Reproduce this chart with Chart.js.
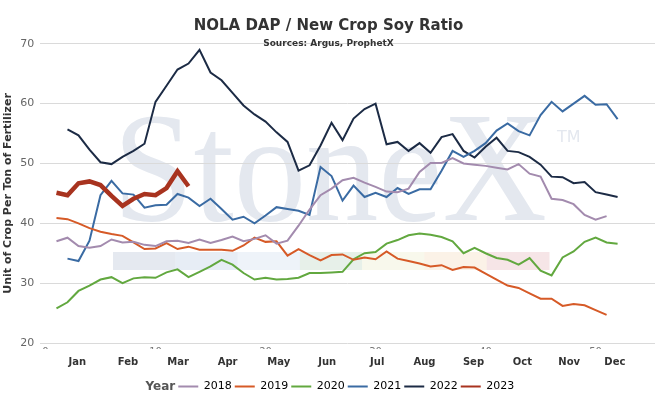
<!DOCTYPE html>
<html>
<head>
<meta charset="utf-8">
<script src="https://cdn.jsdelivr.net/npm/chart.js@4.4.1/dist/chart.umd.min.js"></script>
<style>
  html, body { margin: 0; padding: 0; background: #fff; }
  #wrap { width: 664px; height: 402px; }
</style>
</head>
<body>
<div id="wrap"><canvas id="ratioChart" width="664" height="402"></canvas></div>
<script>
// weekly ratio values
const years = ['2018', '2019', '2020', '2021', '2022', '2023'];
const firstWeek = [1, 1, 1, 2, 2, 1];

const y2018 = [37.0, 37.6, 36.2, 35.9, 36.2, 37.3, 36.8, 36.9, 36.4, 36.2, 37.0, 37.1, 36.7, 37.3, 36.7, 37.2, 37.8, 37.0, 37.4, 38.0,
  36.6, 37.1, 39.6, 42.3, 44.7, 45.8, 47.2, 47.6, 46.8, 46.1, 45.3, 45.2, 45.8, 48.6, 50.1, 50.1, 50.9, 50.0, 49.8, 49.6,
  49.3, 49.0, 49.9, 48.3, 47.8, 44.1, 43.9, 43.2, 41.4, 40.6, 41.2];
const y2019 = [40.9, 40.7, 40.0, 39.2, 38.6, 38.2, 37.9, 36.8, 35.7, 35.8, 36.7, 35.7, 36.1, 35.6, 35.6, 35.6, 35.4, 36.3, 37.6, 36.9,
  37.0, 34.6, 35.7, 34.7, 33.8, 34.7, 34.8, 33.9, 34.3, 34.0, 35.3, 34.1, 33.7, 33.3, 32.8, 33.0, 32.2, 32.7, 32.6, 31.6,
  30.6, 29.6, 29.2, 28.3, 27.4, 27.4, 26.2, 26.5, 26.3, 25.5, 24.7];
const y2020 = [25.8, 26.8, 28.7, 29.6, 30.6, 31.0, 30.0, 30.8, 31.0, 30.9, 31.8, 32.3, 31.0, 31.9, 32.8, 33.9, 33.1, 31.7, 30.6, 30.9,
  30.6, 30.7, 30.9, 31.7, 31.7, 31.8, 31.9, 34.0, 35.0, 35.2, 36.6, 37.2, 38.0, 38.3, 38.1, 37.7, 37.0, 35.0, 35.9, 35.0,
  34.2, 33.9, 33.1, 34.2, 32.1, 31.3, 34.3, 35.3, 36.9, 37.6, 36.8, 36.6];
const y2021 = [34.1, 33.7, 37.1, 44.7, 47.1, 45.0, 44.8, 42.6, 43.0, 43.1, 44.9, 44.3, 42.9, 44.1, 42.4, 40.6, 41.1, 40.0, 41.3,
  42.7, 42.4, 42.1, 41.4, 49.4, 47.9, 43.8, 46.3, 44.4, 45.1, 44.4, 45.9, 44.9, 45.7, 45.7, 48.8, 52.1, 51.1, 52.1, 53.4,
  55.5, 56.7, 55.4, 54.7, 58.1, 60.3, 58.7, 60.0, 61.3, 59.8, 59.9, 57.4];
const y2022 = [55.7, 54.7, 52.3, 50.2, 49.9, 51.1, 52.1, 53.3, 60.3, 63.0, 65.7, 66.7, 69.0, 65.2, 63.9, 61.8, 59.7, 58.2, 57.0,
  55.2, 53.6, 48.8, 49.7, 53.0, 56.8, 53.9, 57.5, 59.1, 60.0, 53.2, 53.6, 52.1, 53.4, 51.8, 54.4, 54.9, 52.1, 51.0, 52.8,
  54.3, 52.1, 51.9, 51.1, 49.8, 47.8, 47.7, 46.7, 46.9, 45.2, 44.8, 44.4];
const y2023 = [45.1, 44.7, 46.7, 47.0, 46.4, 44.6, 42.9, 44.1, 44.9, 44.7, 45.9, 48.7, 46.2];

const seriesValues = [y2018, y2019, y2020, y2021, y2022, y2023];
const seriesColors = ['#a38bae', '#d65a27', '#62a83f', '#3a6ba3', '#1c2b45', '#a8331f'];
const seriesWidths = [2, 2, 2, 2, 2, 4.5];

const monthNames = ['Jan', 'Feb', 'Mar', 'Apr', 'May', 'Jun', 'Jul', 'Aug', 'Sep', 'Oct', 'Nov', 'Dec'];
const monthWeeks = [2.9, 7.5, 12.05, 16.55, 21.2, 25.6, 30.15, 34.45, 38.9, 43.35, 47.6, 51.75];

// faint StoneX logo behind the lines
const watermark = {
  id: 'watermark',
  beforeDraw(chart) {
    const ctx = chart.ctx;
    ctx.save();
    const bars = ['#e5e9f0', '#e7edf5', '#eef3f9', '#e7f0e9', '#f8f8ec', '#fbf2e7', '#f6e5e7'];
    const bw = 436 / bars.length;
    bars.forEach((c, i) => {
      ctx.fillStyle = c;
      ctx.fillRect(113 + i * bw, 252, bw + 0.5, 18);
    });
    ctx.fillStyle = '#e4e8ef';
    ctx.font = '156px "Liberation Serif"';
    ctx.textBaseline = 'alphabetic';
    const w = ctx.measureText('StoneX').width;
    ctx.translate(113, 220);
    ctx.scale(434 / w, 1);
    ctx.fillText('StoneX', 0, 0);
    ctx.restore();
    ctx.save();
    ctx.fillStyle = '#e4e8ef';
    ctx.font = '16px "DejaVu Sans"';
    ctx.fillText('TM', 557, 138);
    ctx.restore();
  }
};

// bold "Year" in front of the legend items
const legendTitle = {
  id: 'legendTitle',
  afterDraw(chart) {
    const boxes = chart.legend && chart.legend.legendHitBoxes;
    if (!boxes || boxes.length < 2) return;
    const ctx = chart.ctx;
    ctx.save();
    ctx.font = 'bold 12px "DejaVu Sans"';
    ctx.fillStyle = '#555';
    ctx.textAlign = 'right';
    ctx.textBaseline = 'middle';
    ctx.fillText('Year', boxes[1].left - 3, boxes[1].top + boxes[1].height / 2);
    ctx.restore();
  }
};

const datasets = years.map((yr, i) => ({
  label: yr,
  data: seriesValues[i].map((v, k) => ({ x: firstWeek[i] + k, y: v })),
  borderColor: seriesColors[i],
  backgroundColor: seriesColors[i],
  borderWidth: seriesWidths[i],
  pointRadius: 0,
  pointHoverRadius: 0,
  tension: 0,
  fill: false,
  order: i === 5 ? 0 : 1
}));

new Chart(document.getElementById('ratioChart'), {
  type: 'line',
  data: { datasets },
  plugins: [watermark, legendTitle],
  options: {
    responsive: false,
    animation: false,
    layout: { padding: { left: 2, right: 9, top: 0, bottom: 0 } },
    plugins: {
      title: {
        display: true,
        text: 'NOLA DAP / New Crop Soy Ratio',
        color: '#333',
        font: { family: 'DejaVu Sans', size: 15, weight: 'bold' },
        padding: { top: 17, bottom: 4 }
      },
      subtitle: {
        display: true,
        text: 'Sources: Argus, ProphetX',
        color: '#333',
        font: { family: 'DejaVu Sans', size: 9, weight: 'bold' },
        padding: { top: -1, bottom: -5 }
      },
      legend: {
        position: 'bottom',
        labels: {
          usePointStyle: true,
          pointStyleWidth: 20,
          padding: 3,
          color: '#555',
          font: { family: 'DejaVu Sans', size: 11 },
          generateLabels(chart) {
            const items = chart.data.datasets.map((ds, i) => ({
              text: ds.label,
              fillStyle: ds.borderColor,
              strokeStyle: ds.borderColor,
              lineWidth: 2,
              pointStyle: 'line',
              hidden: false,
              datasetIndex: i
            }));
            return [{ text: '  ', fillStyle: 'rgba(0,0,0,0)', strokeStyle: 'rgba(0,0,0,0)', lineWidth: 0, pointStyle: 'line', hidden: false, datasetIndex: -1 }].concat(items);
          }
        }
      },
      tooltip: { enabled: false }
    },
    scales: {
      x: {
        type: 'linear',
        position: 'bottom',
        weight: 0,
        min: -0.48,
        max: 55.4,
        grid: { display: false, drawTicks: false },
        border: { display: false },
        ticks: { stepSize: 10, includeBounds: false, padding: 3.5, color: '#777', font: { family: 'DejaVu Sans', size: 10 } },
        afterFit(scale) { scale.height = 6; }
      },
      xm: {
        type: 'linear',
        position: 'bottom',
        weight: 1,
        min: -0.48,
        max: 55.4,
        backgroundColor: '#fff',
        grid: { display: false, drawTicks: false, z: 1 },
        border: { display: false },
        afterBuildTicks(scale) { scale.ticks = monthWeeks.map(v => ({ value: v })); },
        ticks: {
          z: 2,
          padding: 7.4,
          autoSkip: false,
          maxRotation: 0,
          color: '#333',
          font: { family: 'DejaVu Sans', size: 10, weight: 'bold' },
          callback(value, index) { return monthNames[index]; }
        },
        afterFit(scale) { scale.height = 29; }
      },
      y: {
        min: 20,
        max: 70,
        grid: { color: '#dadada', lineWidth: 1, drawTicks: false },
        border: { display: false },
        ticks: { stepSize: 10, padding: 6, color: '#666', font: { family: 'DejaVu Sans', size: 11 } },
        title: {
          display: true,
          text: 'Unit of Crop Per Ton of Fertilizer',
          color: '#333',
          font: { family: 'DejaVu Sans', size: 11, weight: 'bold' },
          padding: { top: 0, bottom: -1 }
        }
      }
    }
  }
});
</script>
</body>
</html>
